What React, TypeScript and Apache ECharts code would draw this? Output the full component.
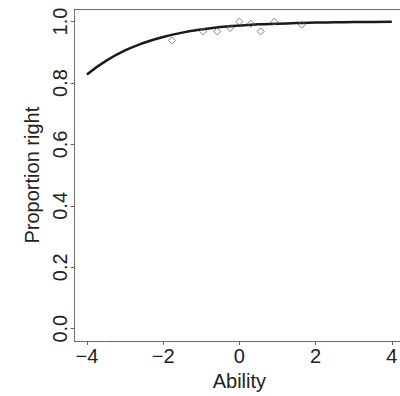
import React, { useEffect, useRef } from "react";
import * as echarts from "echarts";

const xTicks = [-4, -2, 0, 2, 4];
const yTicks = [0, 0.2, 0.4, 0.6, 0.8, 1.0];

const curveAbility = [-4, -3.5, -3, -2.5, -2, -1.5, -1, -0.5, 0, 0.5, 1, 1.5, 2, 2.5, 3, 3.5, 4];
const curveProportion = [0.828, 0.872, 0.906, 0.931, 0.95, 0.964, 0.974, 0.982, 0.987, 0.991, 0.993, 0.995, 0.9967, 0.9976, 0.9983, 0.9988, 0.9992];

const pointAbility = [-1.77, -0.95, -0.58, -0.24, 0.0, 0.3, 0.56, 0.92, 1.64];
const pointProportion = [0.939, 0.968, 0.968, 0.979, 1.0, 0.993, 0.968, 1.0, 0.99];

const FONT = "Liberation Sans";

export default function App() {
  const ref = useRef<HTMLDivElement>(null);
  useEffect(() => {
    if (!ref.current) return;
    const chart = echarts.init(ref.current, undefined, { renderer: "svg" });
    const dotted = { show: true, onZero: false, lineStyle: { color: "#555", width: 1, type: "dotted" as const } };
    chart.setOption({
      animation: false,
      backgroundColor: "#fff",
      grid: {
        left: 74.7,
        top: 9.3,
        width: 329.3,
        height: 331.7,
        containLabel: false,
        outerBoundsMode: "none",
      },
      xAxis: [
        {
          type: "value",
          min: -4.32,
          max: 4.32,
          name: "Ability",
          nameLocation: "middle",
          nameGap: 28,
          nameTextStyle: { fontFamily: FONT, fontSize: 20, color: "#222" },
          axisLine: dotted,
          axisTick: { show: true, length: 4, customValues: xTicks, lineStyle: { color: "#666" } },
          axisLabel: {
            customValues: xTicks,
            margin: 5,
            fontFamily: FONT,
            fontSize: 20,
            color: "#222",
            formatter: (v: number) => String(v).replace("-", "\u2212"),
          },
          splitLine: { show: false },
        },
        {
          type: "value",
          position: "top",
          min: -4.32,
          max: 4.32,
          axisLine: dotted,
          axisTick: { show: false },
          axisLabel: { show: false },
          splitLine: { show: false },
        },
      ],
      yAxis: [
        {
          type: "value",
          min: -0.04,
          max: 1.04,
          name: "Proportion right",
          nameLocation: "middle",
          nameGap: 33,
          nameTextStyle: { fontFamily: FONT, fontSize: 20, color: "#222" },
          axisLine: dotted,
          axisTick: { show: true, length: 4, customValues: yTicks, lineStyle: { color: "#666" } },
          axisLabel: {
            customValues: yTicks,
            rotate: 90,
            margin: 5,
            fontFamily: FONT,
            fontSize: 20,
            color: "#222",
            formatter: (v: number) => v.toFixed(1),
          },
          splitLine: { show: false },
        },
      ],
      series: [
        {
          type: "line",
          data: curveAbility.map((x, i) => [x, curveProportion[i]]),
          smooth: true,
          showSymbol: false,
          lineStyle: { color: "#1a1a1a", width: 2.5 },
          z: 2,
        },
        {
          type: "scatter",
          data: pointAbility.map((x, i) => [x, pointProportion[i]]),
          symbol: "diamond",
          symbolSize: 7,
          itemStyle: { color: "rgba(255,255,255,0)", borderColor: "#666", borderWidth: 1 },
          z: 3,
        },
      ],
    });
    return () => chart.dispose();
  }, []);
  return (
    <div
      ref={ref}
      style={{ position: "fixed", left: 0, top: 0, width: 400, height: 396, background: "#fff" }}
    />
  );
}
